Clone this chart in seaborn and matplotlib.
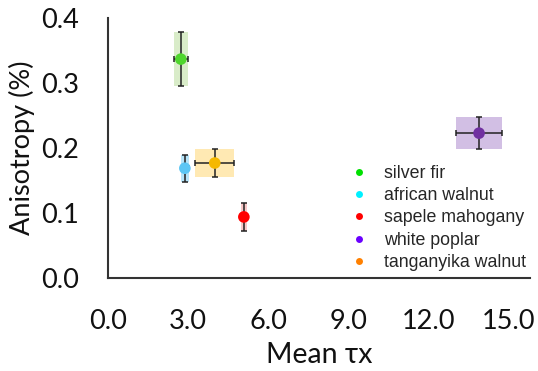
import matplotlib
matplotlib.use("Agg")
import matplotlib.pyplot as plt
from matplotlib.patches import Rectangle
from matplotlib.lines import Line2D
import seaborn as sns
import pandas as pd

species = ["silver fir", "african walnut", "sapele mahogany", "white poplar", "tanganyika walnut"]
mean_tx = [2.73, 2.88, 5.09, 13.9, 4.0]
tx_err = [0.26, 0.15, 0.11, 0.86, 0.73]
anisotropy = [0.337, 0.169, 0.094, 0.223, 0.177]
aniso_err = [0.042, 0.021, 0.022, 0.025, 0.021]

point_colors = ["#4fd62d", "#5cc6f4", "#ff0000", "#7030a0", "#f5b800"]
band_colors = ["#d9ecc9", "#b8e4f8", "#f8c8c8", "#d2bfe4", "#ffe9b3"]
legend_colors = ["#00e000", "#00f0ff", "#ff0000", "#6a00ff", "#ff8000"]

x_ticks = [0.0, 3.0, 6.0, 9.0, 12.0, 15.0]
y_ticks = [0.0, 0.1, 0.2, 0.3, 0.4]

df = pd.DataFrame({"species": species, "tx": mean_tx, "aniso": anisotropy})

sns.set_theme(style="white")
plt.rcParams["font.family"] = ["Lato", "DejaVu Sans"]

fig = plt.figure(figsize=(5.38, 3.71), dpi=100)
ax = fig.add_axes([0.2007, 0.2507, 0.784, 0.7003])

# uncertainty bands behind each point
for x, xe, y, ye, bc in zip(mean_tx, tx_err, anisotropy, aniso_err, band_colors):
    ax.add_patch(Rectangle((x - xe, y - ye), 2 * xe, 2 * ye,
                           facecolor=bc, edgecolor="none", zorder=1))

ax.errorbar(mean_tx, anisotropy, xerr=tx_err, yerr=aniso_err, fmt="none",
            ecolor="#222222", elinewidth=1.1, capsize=2, capthick=1.1, zorder=2)

sns.scatterplot(data=df, x="tx", y="aniso", hue="species", palette=point_colors,
                s=70, edgecolor="none", legend=False, ax=ax, zorder=3)

ax.set_xlim(0, 15.8)
ax.set_ylim(0, 0.4)
ax.set_xticks(x_ticks)
ax.set_xticklabels([f"{v:.1f}" for v in x_ticks])
ax.set_yticks(y_ticks)
ax.set_yticklabels([f"{v:.1f}" for v in y_ticks])
ax.tick_params(axis="both", length=0, labelsize=19.5, colors="#111111")
ax.tick_params(axis="y", pad=21)
ax.tick_params(axis="x", pad=22)

ax.set_xlabel("Mean τx", fontsize=20.5, color="#111111", labelpad=6)
ax.set_ylabel("Anisotropy (%)", fontsize=19.5, color="#111111", labelpad=4)

for side in ("top", "right"):
    ax.spines[side].set_visible(False)
for side in ("left", "bottom"):
    ax.spines[side].set_color("#333333")
    ax.spines[side].set_linewidth(1.5)

handles = [Line2D([0], [0], marker="o", linestyle="none", markersize=5,
                  markerfacecolor=c, markeredgecolor="none") for c in legend_colors]
leg = ax.legend(handles, species, loc="lower left", bbox_to_anchor=(0.536, -0.035),
                frameon=False, handlelength=1.0, handletextpad=0.9, labelspacing=0.3,
                prop={"family": "Liberation Sans", "size": 12.8})

fig.savefig("out.png", dpi=100)
